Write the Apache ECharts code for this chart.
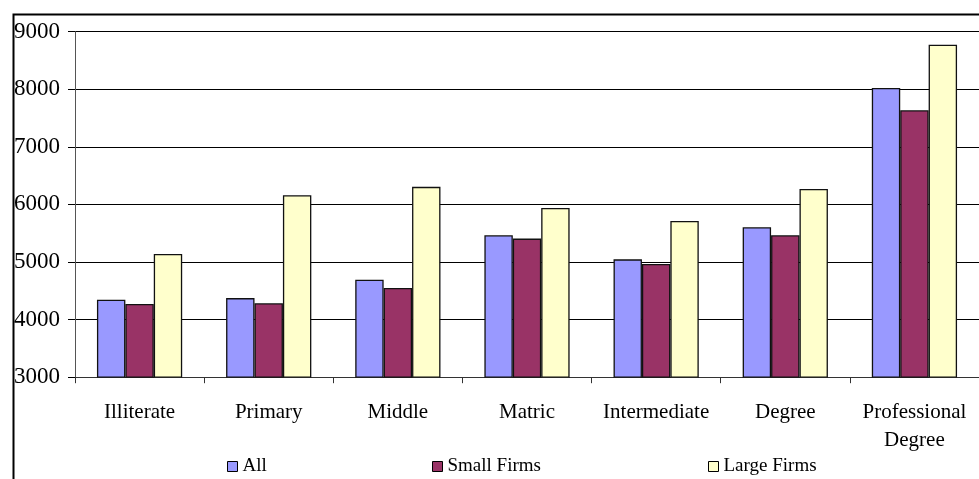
<!DOCTYPE html>
<html>
<head>
<meta charset="utf-8">
<script src="https://cdn.jsdelivr.net/npm/echarts@6/dist/echarts.min.js"></script>
<style>
html,body{margin:0;padding:0;background:#fff;}
#chart{width:979px;height:479px;}
</style>
</head>
<body>
<div id="chart"></div>
<script>
var categories = ['Illiterate', 'Primary', 'Middle', 'Matric', 'Intermediate', 'Degree', 'Professional\nDegree'];
var allValues = [4347, 4374, 4694, 5464, 5047, 5604, 8023];
var smallFirms = [4270, 4283, 4548, 5407, 4967, 5464, 7635];
var largeFirms = [5139, 6160, 6306, 5940, 5713, 6270, 8775];
var seriesNames = ['All', 'Small Firms', 'Large Firms'];
var seriesColors = ['#9999FF', '#993366', '#FFFFCC'];

var FONT = '"Liberation Serif", "Times New Roman", serif';
var chart = echarts.init(document.getElementById('chart'));

function bar(name, data, color) {
  return {
    name: name, type: 'bar', data: data,
    barGap: '0%', barCategoryGap: '34%',
    itemStyle: { color: color, borderColor: '#111', borderWidth: 1.3 },
    emphasis: { disabled: true }
  };
}
function leg(name, left) {
  return {
    data: [{ name: name, itemStyle: { borderColor: '#000', borderWidth: 1 } }],
    left: left, top: 452, itemWidth: 10, itemHeight: 10, itemGap: 0,
    icon: 'rect', selectedMode: false,
    textStyle: { fontFamily: FONT, fontSize: 19, color: '#000', padding: [0, 0, 0, 0] }
  };
}

chart.setOption({
  animation: false,
  backgroundColor: '#fff',
  graphic: [{
    type: 'rect', left: 11, top: 12, z: -1,
    shape: { width: 1000, height: 500 },
    style: { fill: 'none', stroke: '#000', lineWidth: 2 }
  }],
  legend: [leg('All', 222), leg('Small Firms', 427), leg('Large Firms', 703)],
  grid: { left: 75, top: 31.7, width: 920, height: 345.5, containLabel: false },
  xAxis: {
    type: 'category', data: categories,
    axisLine: { lineStyle: { color: '#333', width: 1 } },
    axisTick: { show: true, length: 6, lineStyle: { color: '#333' } },
    axisLabel: { fontFamily: FONT, fontSize: 21, color: '#000', margin: 21, lineHeight: 28, interval: 0 }
  },
  yAxis: {
    type: 'value', min: 3000, max: 9000, interval: 1000,
    axisLine: { show: true, lineStyle: { color: '#555', width: 1 } },
    axisTick: { show: true, length: 7, lineStyle: { color: '#000' } },
    axisLabel: { fontFamily: FONT, fontSize: 23, color: '#000', margin: 15, formatter: function (v) { return String(v); } },
    splitLine: { show: true, lineStyle: { color: '#000', width: 1 } }
  },
  series: [
    bar(seriesNames[0], allValues, seriesColors[0]),
    bar(seriesNames[1], smallFirms, seriesColors[1]),
    bar(seriesNames[2], largeFirms, seriesColors[2])
  ]
});
</script>
</body>
</html>
